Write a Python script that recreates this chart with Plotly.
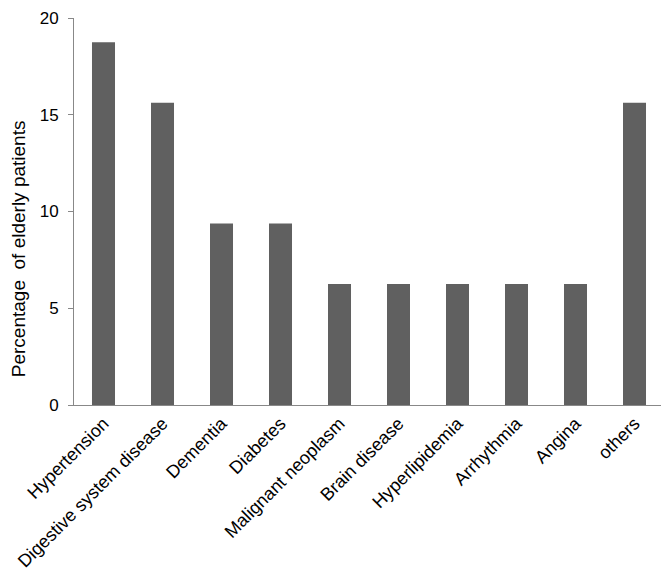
import plotly.graph_objects as go

categories = ["Hypertension", "Digestive system disease", "Dementia", "Diabetes",
              "Malignant neoplasm", "Brain disease", "Hyperlipidemia", "Arrhythmia",
              "Angina", "others"]
percentages = [18.75, 15.625, 9.375, 9.375, 6.25, 6.25, 6.25, 6.25, 6.25, 15.625]
y_ticks = [0, 5, 10, 15, 20]
y_title = "Percentage  of elderly patients"

fig = go.Figure(go.Bar(x=categories, y=percentages, marker_color="#606060",
                       marker_line_width=0))
fig.update_layout(
    width=669, height=585,
    margin=dict(l=66, r=13, t=10, b=188),
    plot_bgcolor="white", paper_bgcolor="white",
    bargap=0.61,
    showlegend=False,
    font=dict(family="Liberation Sans, Arial, sans-serif", color="black"),
)
fig.update_xaxes(showline=True, linecolor="#888888", linewidth=1, ticks="",
                 tickangle=-45, tickfont=dict(size=18), showgrid=False,
                 automargin=False)
fig.update_yaxes(range=[0, 20], tickvals=y_ticks, showline=True, linecolor="#888888",
                 linewidth=1, ticks="outside", ticklen=5, tickcolor="#888888",
                 tickfont=dict(size=17), showgrid=False, zeroline=False,
                 automargin=False, ticklabelstandoff=6, ticklabeloverflow="allow")
fig.add_annotation(text=y_title, textangle=-90, xref="paper", yref="paper",
                   x=-0.095, y=0.405, xanchor="center", yanchor="middle",
                   showarrow=False, font=dict(size=19))
fig.write_html("out.html")
